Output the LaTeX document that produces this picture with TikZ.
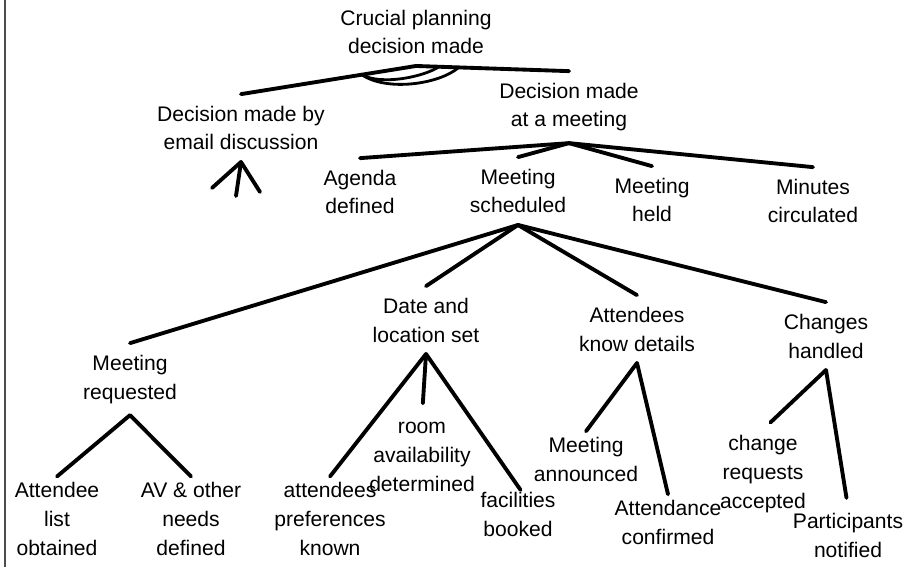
\documentclass[tikz,border=0pt]{standalone}
\usepackage{fontspec}
\setmainfont{Liberation Sans}
\usepackage{tikz}
\usetikzlibrary{calc}
\tikzset{
    goal tree/.style={
            x=0.02cm,y=-0.02cm,
            goal/.style={anchor=base,align=center,inner xsep=2pt,inner ysep=6.5pt,
                font=\fontsize{12}{16.4}\selectfont},
            leaf/.style={goal,inner ysep=3pt},
            link/.style={line width=2.2pt,line cap=round},
            andmark/.style={line width=1.6pt,line cap=round}
        }
    }
\begin{document}
\begin{tikzpicture}[goal tree]
                \useasboundingbox (0,0) rectangle (912,567);
                \draw [line width=1.2pt, black!70] (5,0) -- (5,567);
                % top levels
                \node (C) [goal] at (416,54) {Crucial planning\\decision made};
                \node (E) [goal] at (241,150) {Decision made by\\email discussion};
                \node (M) [goal] at (569,127) {Decision made\\at a meeting};
                \node (AD) [goal] at (360,214) {Agenda\\defined};
                \node (MS) [goal] at (518,213) {Meeting\\scheduled};
                \node (MH) [goal] at (652,222) {Meeting\\held};
                \node (MC) [goal] at (813,223) {Minutes\\circulated};
                \node (MR) [goal] at (130,399) {Meeting\\requested};
                \node (DL) [goal] at (426,342) {Date and\\location set};
                \node (KD) [goal] at (637,351) {Attendees\\know details};
                \node (CH) [goal] at (826,358) {Changes\\handled};
                % leaves
                \node (AL) [leaf] at (57,555) {Attendee\\list\\obtained};
                \node (AV) [leaf] at (191,555) {AV \& other\\needs\\defined};
                \node (AP) [leaf] at (330,555) {attendees\\preferences\\known};
                \node (RA) [leaf] at (422,491) {room\\availability\\determined};
                \node (FB) [leaf] at (518,536) {facilities\\booked};
                \node (MA) [leaf] at (586,481) {Meeting\\announced};
                \node (AC) [leaf] at (668,544) {Attendance\\confirmed};
                \node (CR) [leaf] at (763,508) {change\\requests\\accepted};
                \node (PN) [leaf] at (848,557) {Participants\\notified};
                \draw [link] (C.south) -- (E.north);
                \draw [link] (C.south) -- (M.north);
                \draw [andmark] ($(C.south)!0.31!(E.north)$) .. controls +(20,11) and +(-15,10) .. ($(C.south)!0.15!(M.north)$);
                \draw [andmark] ($(C.south)!0.31!(E.north)$) .. controls +(25,17) and +(-20,17) .. ($(C.south)!0.28!(M.north)$);
                \coordinate (E1) at ($(E.south)+(-29,26)$);
                \coordinate (E2) at ($(E.south)+(-5,34)$);
                \coordinate (E3) at ($(E.south)+(19,30)$);
                \draw [link] (E.south) -- (E1);
                \draw [link] (E.south) -- (E2);
                \draw [link] (E.south) -- (E3);
                \foreach \child in {AD,MS,MH,MC}
                    \draw [link] (M.south) -- (\child.north);
                \foreach \child in {MR,DL,KD,CH}
                    \draw [link] (MS.south) -- (\child.north);
                \draw [link] (MR.south) -- (AL.north);
                \draw [link] (MR.south) -- (AV.north);
                \draw [link] (DL.south) -- (AP.north);
                \draw [link, shorten >=7.5pt] (DL.south) -- (RA.north);
                \draw [link, shorten >=-2.5pt] (DL.south) -- (FB.north);
                \draw [link] (KD.south) -- (MA.north);
                \draw [link] (KD.south) -- (AC.north);
                \draw [link, shorten >=5.8pt] (CH.south) -- (CR.north);
                \draw [link, shorten >=5.4pt] (CH.south) -- (PN.north);
            \end{tikzpicture}
\end{document}
